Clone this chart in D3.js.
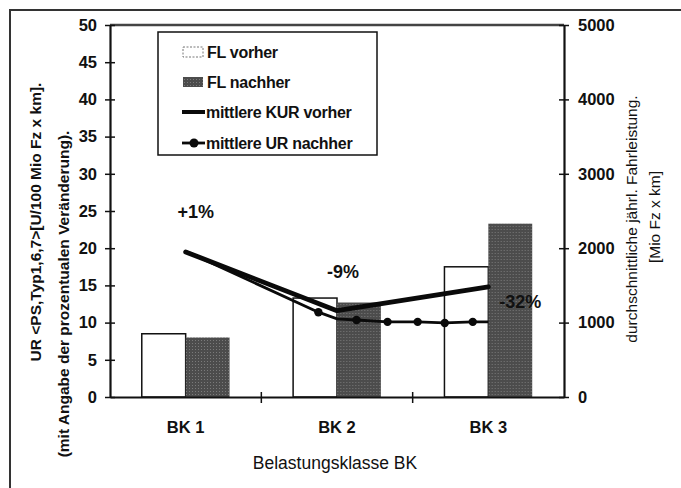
<!DOCTYPE html>
<html>
<head>
<meta charset="utf-8">
<script src="https://cdn.jsdelivr.net/npm/d3@7"></script>
<style>
  html, body { margin: 0; padding: 0; background: #fff; }
  svg text { font-family: "Liberation Sans", Arial, sans-serif; fill: #111; }
</style>
</head>
<body>
<div id="chart"></div>
<script>
// values
const categories = ["BK 1", "BK 2", "BK 3"];
const flVorher = [850, 1330, 1750];      // right axis, Mio Fz x km
const flNachher = [800, 1270, 2330];
const kurVorher = [19.5, 11.6, 14.8];    // left axis
// UR nachher is drawn with extra marker points between the classes (position in class units)
const urNachherPos = [1, 1.877, 2, 2.129, 2.334, 2.533, 2.712, 2.897, 3];
const urNachher = [19.6, 11.4, 10.5, 10.35, 10.1, 10.1, 9.95, 10.1, 10.1];
const urMarker = [0, 1, 0, 1, 1, 1, 1, 1, 0];
const leftTicks = [0, 5, 10, 15, 20, 25, 30, 35, 40, 45, 50];
const rightTicks = [0, 1000, 2000, 3000, 4000, 5000];
const labels = [
  { text: "+1%", cat: 1, val: 24.8, dx: 10 },
  { text: "-9%", cat: 2, val: 16.8, dx: 6 },
  { text: "-32%", cat: 3, val: 12.8, dx: 32 }
];

const W = 681, H = 488;
const plot = { left: 110, right: 564, top: 25, bottom: 397 };

let svg = d3.select("#chart")
            .append("svg")
            .attr("width", W)
            .attr("height", H);

// outer frame (runs off the right and bottom edge like in the scan)
svg.append("rect")
   .attr("x", 10).attr("y", 10)
   .attr("width", 700).attr("height", 500)
   .attr("fill", "none")
   .attr("stroke", "#333")
   .attr("stroke-width", 2);

let x = d3.scaleBand()
          .domain(categories)
          .range([plot.left, plot.right]);
let xPos = d3.scaleLinear()
             .domain([0.5, 3.5])
             .range([plot.left, plot.right]);
let yL = d3.scaleLinear().domain([0, 50]).range([plot.bottom, plot.top]);
let yR = d3.scaleLinear().domain([0, 5000]).range([plot.bottom, plot.top]);
let inner = d3.scaleBand()
              .domain(["vorher", "nachher"])
              .range([x.bandwidth() * 0.21, x.bandwidth() * 0.79]);

// texture for the dark bars
let defs = svg.append("defs");
let pat = defs.append("pattern")
   .attr("id", "dark")
   .attr("width", 3).attr("height", 3)
   .attr("patternUnits", "userSpaceOnUse");
pat.append("rect").attr("width", 3).attr("height", 3).attr("fill", "#4c4c4c");
pat.append("rect").attr("x", 1).attr("y", 1).attr("width", 1).attr("height", 1).attr("fill", "#7a7a7a");

// plot top border
svg.append("line")
   .attr("x1", plot.left).attr("x2", plot.right)
   .attr("y1", plot.top).attr("y2", plot.top)
   .attr("stroke", "#444").attr("stroke-width", 2.5);

// bars
let groups = svg.append("g").selectAll("g")
   .data(categories)
   .join("g")
   .attr("transform", d => `translate(${x(d)},0)`);

groups.append("rect")
   .attr("x", inner("vorher"))
   .attr("y", (d, i) => yR(flVorher[i]))
   .attr("width", inner.bandwidth())
   .attr("height", (d, i) => plot.bottom - yR(flVorher[i]))
   .attr("fill", "#fff")
   .attr("stroke", "#111")
   .attr("stroke-width", 1.5);

groups.append("rect")
   .attr("x", inner("nachher"))
   .attr("y", (d, i) => yR(flNachher[i]))
   .attr("width", inner.bandwidth())
   .attr("height", (d, i) => plot.bottom - yR(flNachher[i]))
   .attr("fill", "url(#dark)");

// axes
let axisL = svg.append("g")
   .attr("transform", `translate(${plot.left},0)`)
   .call(d3.axisLeft(yL).tickValues(leftTicks).tickSize(0).tickPadding(13));
let axisR = svg.append("g")
   .attr("transform", `translate(${plot.right},0)`)
   .call(d3.axisRight(yR).tickValues(rightTicks).tickFormat(d3.format("d")).tickSize(0).tickPadding(14));
let axisB = svg.append("g")
   .attr("transform", `translate(0,${plot.bottom})`)
   .call(d3.axisBottom(x).tickSize(0).tickPadding(24));

[axisL, axisR, axisB].forEach(a => {
  a.select(".domain").attr("stroke", "#111").attr("stroke-width", 2.2);
  a.selectAll("text")
   .style("font-size", "16.5px")
   .style("font-weight", "bold")
   .attr("fill", "#111");
});

// crossing tick marks
axisL.selectAll(".tick").append("line")
   .attr("x1", -5).attr("x2", 5).attr("stroke", "#111").attr("stroke-width", 1.5);
axisR.selectAll(".tick").append("line")
   .attr("x1", -5).attr("x2", 5).attr("stroke", "#111").attr("stroke-width", 1.5);
svg.append("g").selectAll("line")
   .data(categories.slice(1))
   .join("line")
   .attr("x1", d => x(d)).attr("x2", d => x(d))
   .attr("y1", plot.bottom - 5).attr("y2", plot.bottom + 6)
   .attr("stroke", "#111").attr("stroke-width", 1.5);

// lines
let kurLine = d3.line()
   .x((d, i) => xPos(i + 1))
   .y(d => yL(d));
svg.append("path")
   .attr("d", kurLine(kurVorher))
   .attr("fill", "none")
   .attr("stroke", "#0a0a0a")
   .attr("stroke-width", 4.8)
   .attr("stroke-linecap", "round")
   .attr("stroke-linejoin", "round");

let urPoints = urNachher.map((v, i) => ({ pos: urNachherPos[i], val: v, mark: urMarker[i] }));
let urLine = d3.line()
   .x(d => xPos(d.pos))
   .y(d => yL(d.val));
svg.append("path")
   .attr("d", urLine(urPoints))
   .attr("fill", "none")
   .attr("stroke", "#0a0a0a")
   .attr("stroke-width", 2.8);
svg.append("g").selectAll("circle")
   .data(urPoints.filter(d => d.mark))
   .join("circle")
   .attr("cx", d => xPos(d.pos))
   .attr("cy", d => yL(d.val))
   .attr("r", 4.2)
   .attr("fill", "#0a0a0a");

// percentage labels
svg.append("g").selectAll("text")
   .data(labels)
   .join("text")
   .attr("x", d => xPos(d.cat) + d.dx)
   .attr("y", d => yL(d.val))
   .attr("text-anchor", "middle")
   .attr("dominant-baseline", "central")
   .style("font-size", "18px")
   .style("font-weight", "bold")
   .text(d => d.text);

// axis titles
svg.append("text")
   .attr("x", 335).attr("y", 469)
   .attr("text-anchor", "middle")
   .style("font-size", "17.5px")
   .text("Belastungsklasse BK");

svg.append("text")
   .attr("transform", "translate(41,222) rotate(-90)")
   .attr("text-anchor", "middle")
   .style("font-size", "15.5px")
   .style("font-weight", "bold")
   .text("UR <PS,Typ1,6,7>[U/100 Mio Fz x km].");
svg.append("text")
   .attr("transform", "translate(69,294) rotate(-90)")
   .attr("text-anchor", "middle")
   .style("font-size", "15.5px")
   .style("font-weight", "bold")
   .text("(mit Angabe der prozentualen Veränderung).");

svg.append("text")
   .attr("transform", "translate(637,219) rotate(-90)")
   .attr("text-anchor", "middle")
   .style("font-size", "15.5px")
   .text("durchschnittliche jährl. Fahrleistung.");
svg.append("text")
   .attr("transform", "translate(660,217) rotate(-90)")
   .attr("text-anchor", "middle")
   .style("font-size", "15.5px")
   .text("[Mio Fz x km]");

// legend
let lg = svg.append("g");
lg.append("rect")
  .attr("x", 158).attr("y", 32)
  .attr("width", 219).attr("height", 123)
  .attr("fill", "#fff")
  .attr("stroke", "#111")
  .attr("stroke-width", 1.5);

const legendRows = [52, 82, 112, 143];
lg.append("rect")
  .attr("x", 183).attr("y", legendRows[0] - 5)
  .attr("width", 20).attr("height", 10)
  .attr("fill", "#fff")
  .attr("stroke", "#777")
  .attr("stroke-dasharray", "2,1.5");
lg.append("rect")
  .attr("x", 183).attr("y", legendRows[1] - 5)
  .attr("width", 20).attr("height", 10)
  .attr("fill", "url(#dark)");
lg.append("line")
  .attr("x1", 182).attr("x2", 205)
  .attr("y1", legendRows[2]).attr("y2", legendRows[2])
  .attr("stroke", "#0a0a0a").attr("stroke-width", 4);
lg.append("line")
  .attr("x1", 182).attr("x2", 205)
  .attr("y1", legendRows[3]).attr("y2", legendRows[3])
  .attr("stroke", "#0a0a0a").attr("stroke-width", 2.8);
lg.append("circle")
  .attr("cx", 194).attr("cy", legendRows[3]).attr("r", 4.5)
  .attr("fill", "#0a0a0a");

lg.selectAll("text.item")
  .data(["FL vorher", "FL nachher", "mittlere KUR vorher", "mittlere UR nachher"])
  .join("text")
  .attr("class", "item")
  .attr("x", (d, i) => i < 2 ? 207 : 206)
  .attr("y", (d, i) => legendRows[i])
  .attr("dominant-baseline", "central")
  .style("font-size", "16px")
  .style("font-weight", "bold")
  .style("letter-spacing", "-0.3px")
  .text(d => d);
</script>
</body>
</html>
